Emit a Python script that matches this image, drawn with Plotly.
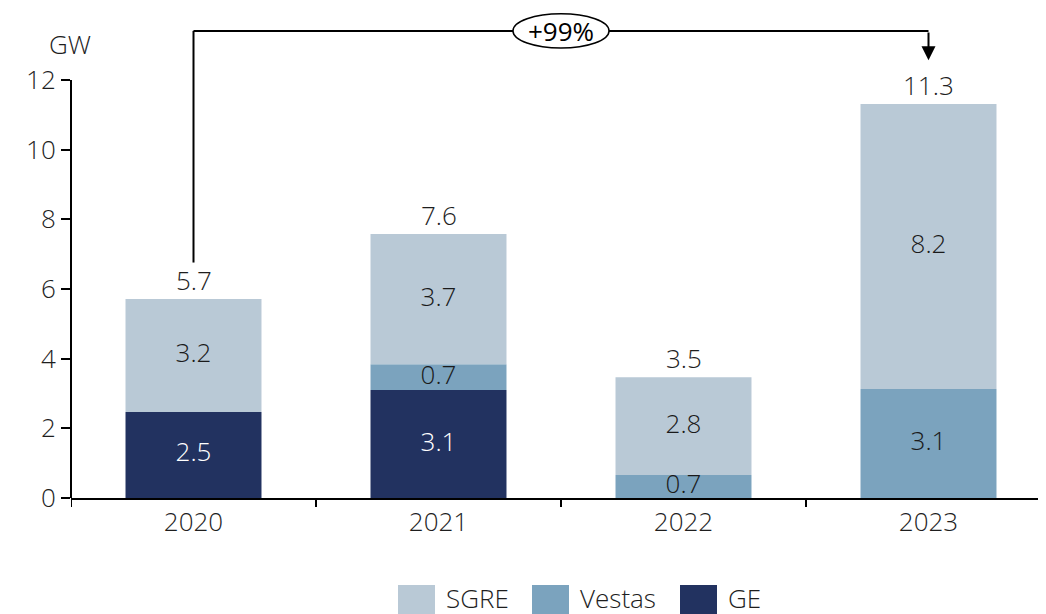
import plotly.graph_objects as go

years = ["2020", "2021", "2022", "2023"]
ge = [2.47, 3.10, 0.0, 0.0]
vestas = [0.0, 0.74, 0.66, 3.13]
sgre = [3.24, 3.74, 2.81, 8.18]
growth_label = "+99%"

series = [("GE", ge, "#223260", "white"),
          ("Vestas", vestas, "#7BA3BE", "#1a1a1a"),
          ("SGRE", sgre, "#B9C9D6", "#1a1a1a")]

# page body has an 8px margin, so the figure is drawn 8px in from the window corner
OFF = 8
W, H = 1046 - OFF, 614 - OFF
ML, MR, MT, MB = 71 - OFF, 0, 0, 116
PW, PH = W - ML - MR, H - MT - MB
PX_PER_UNIT = 418 / 12.0
Y_TOP = PH / PX_PER_UNIT
X_RANGE = [-0.5, -0.5 + PW / 245.0]

FONT = dict(family="Open Sans", size=26, color="#1e1e1e", weight=300)


def px_x(sx):
    return (sx - OFF - ML) / PW


def px_y(sy):
    return (H - MB - (sy - OFF)) / PH


fig = go.Figure()

x_idx = list(range(len(years)))
base = [0.0] * len(years)
for name, vals, color, tcolor in series:
    fig.add_trace(go.Bar(
        x=x_idx, y=vals, base=base[:], name=name, width=0.555,
        marker=dict(color=color, line=dict(width=0)),
        showlegend=False, hoverinfo="skip",
    ))
    mids, txt, xs = [], [], []
    for i, v in enumerate(vals):
        if v > 0:
            xs.append(i)
            mids.append(base[i] + v / 2)
            txt.append(f"{v:.1f}")
    fig.add_trace(go.Scatter(
        x=xs, y=mids, text=txt, mode="text", textposition="middle center",
        textfont=dict(FONT, color=tcolor), showlegend=False, hoverinfo="skip",
    ))
    base = [b + v for b, v in zip(base, vals)]

totals = base
for i, t in enumerate(totals):
    fig.add_annotation(x=i, y=t, text=f"{t:.1f}", showarrow=False, yanchor="middle",
                       yshift=19, font=FONT)

# growth bracket from 2020 to 2023
top_y = 13.41
first, last = 0, len(years) - 1
fig.add_shape(type="line", x0=first, x1=first, y0=totals[first] + 1.05, y1=top_y,
              line=dict(color="black", width=2))
fig.add_shape(type="line", x0=first, x1=last, y0=top_y, y1=top_y,
              line=dict(color="black", width=2))
mid = (first + last) / 2
fig.add_shape(type="circle", x0=mid - 0.196, x1=mid + 0.196, y0=top_y - 0.49, y1=top_y + 0.49,
              fillcolor="white", line=dict(color="black", width=1.5))
fig.add_annotation(x=mid, y=top_y, text=growth_label, showarrow=False,
                   font=dict(FONT, size=26, color="black", weight=400))
fig.add_annotation(x=last, y=totals[last] + 1.26, ax=last, ay=top_y, axref="x", ayref="y",
                   text="", showarrow=True, arrowhead=2, arrowsize=1.4, arrowwidth=2,
                   arrowcolor="black")

# y axis line (only up to 12) and unit label
fig.add_shape(type="line", xref="paper", x0=0, x1=0, yref="y", y0=0, y1=12,
              line=dict(color="black", width=2))
fig.add_annotation(xref="paper", x=px_x(70), yref="paper", y=px_y(44), text="GW",
                   xanchor="center", yanchor="middle", showarrow=False, font=FONT)

# legend
legend_items = [("SGRE", "#B9C9D6", 398), ("Vestas", "#7BA3BE", 532), ("GE", "#223260", 680)]
for name, color, lx in legend_items:
    fig.add_shape(type="rect", xref="paper", yref="paper",
                  x0=px_x(lx), x1=px_x(lx + 37), y0=px_y(585), y1=px_y(625),
                  fillcolor=color, line=dict(width=0))
    fig.add_annotation(xref="paper", yref="paper", x=px_x(lx + 46), y=px_y(598),
                       xanchor="left", yanchor="middle", text=name, showarrow=False, font=FONT)

fig.update_layout(
    width=W, height=H,
    margin=dict(l=ML, r=MR, t=MT, b=MB),
    plot_bgcolor="white", paper_bgcolor="white",
    barmode="overlay",
    font=FONT,
    xaxis=dict(
        range=X_RANGE, tickvals=x_idx, ticktext=years, tickmode="array",
        showline=True, linecolor="black", linewidth=2, showgrid=False, zeroline=False,
        ticks="", tickfont=FONT,
    ),
    yaxis=dict(
        range=[0, Y_TOP], tickvals=[0, 2, 4, 6, 8, 10, 12],
        ticks="outside", ticklen=9, tickwidth=2, tickcolor="black",
        showline=False, showgrid=False, zeroline=False, tickfont=FONT,
    ),
)

# boundary ticks on x axis
for b in [i - 0.5 for i in range(len(years) + 1)]:
    fig.add_shape(type="line", x0=b, x1=b, yref="paper", y0=0, y1=px_y(507),
                  line=dict(color="black", width=2))

fig.write_html("out.html")
